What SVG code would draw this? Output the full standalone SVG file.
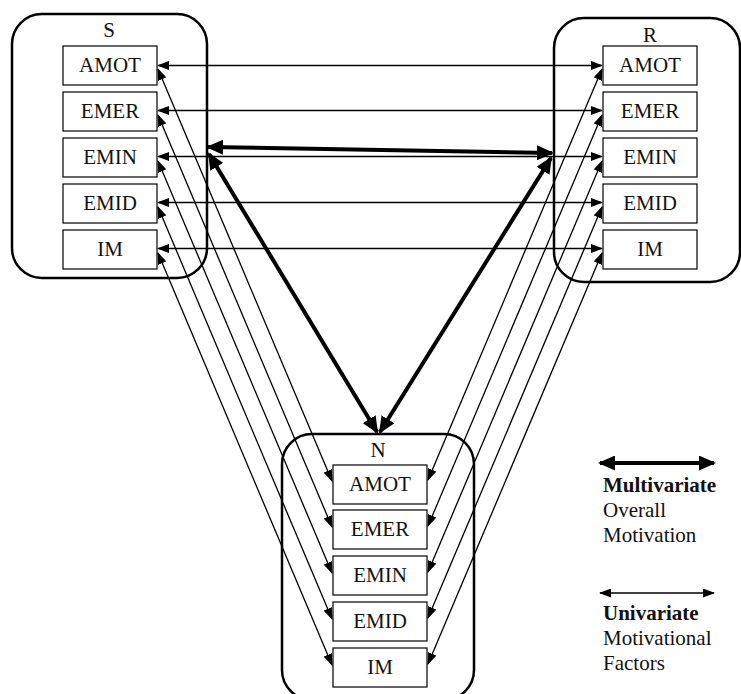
<svg xmlns="http://www.w3.org/2000/svg" width="741" height="694" viewBox="0 0 741 694">
  <style>
    .group { fill: none; stroke: #000; stroke-width: 2.5; }
    .box { fill: #fff; stroke: #000; stroke-width: 1.2; }
    text { font-family: "Liberation Serif", "Times New Roman", Times, serif; font-size: 21px; fill: #111; }
    .lbl { text-anchor: middle; }
    .bold { font-weight: bold; }
    .thin { stroke: #000; stroke-width: 1.3; fill: none; marker-start: url(#headThin); marker-end: url(#headThin); }
    .thick { stroke: #000; stroke-width: 4; fill: none; marker-start: url(#headThick); marker-end: url(#headThick); }
  </style>
  <defs>
    <marker id="headThin" viewBox="0 0 12 9" refX="11" refY="4.5" markerWidth="12" markerHeight="9" markerUnits="userSpaceOnUse" orient="auto-start-reverse">
      <path d="M0,0 L12,4.5 L0,9 z" fill="#000"/>
    </marker>
    <marker id="headThick" viewBox="0 0 17 15" refX="15" refY="7.5" markerWidth="17" markerHeight="15" markerUnits="userSpaceOnUse" orient="auto-start-reverse">
      <path d="M0,0 L17,7.5 L0,15 z" fill="#000"/>
    </marker>
  </defs>

  <!-- S group -->
  <g id="S">
    <rect class="group" x="12" y="14" width="195" height="264" rx="30"/>
    <text class="lbl" x="109" y="37">S</text>
    <g id="S-AMOT"><rect class="box" x="63" y="46" width="94" height="39"/><text class="lbl" x="110" y="72">AMOT</text></g>
    <g id="S-EMER"><rect class="box" x="63" y="92" width="94" height="39"/><text class="lbl" x="110" y="118">EMER</text></g>
    <g id="S-EMIN"><rect class="box" x="63" y="138" width="94" height="39"/><text class="lbl" x="110" y="164">EMIN</text></g>
    <g id="S-EMID"><rect class="box" x="63" y="184" width="94" height="39"/><text class="lbl" x="110" y="210">EMID</text></g>
    <g id="S-IM"><rect class="box" x="63" y="230" width="94" height="39"/><text class="lbl" x="110" y="256">IM</text></g>
  </g>

  <!-- R group -->
  <g id="R">
    <rect class="group" x="554" y="18" width="186" height="264" rx="30"/>
    <text class="lbl" x="650" y="42">R</text>
    <g id="R-AMOT"><rect class="box" x="603" y="46" width="94" height="39"/><text class="lbl" x="650" y="72">AMOT</text></g>
    <g id="R-EMER"><rect class="box" x="603" y="92" width="94" height="39"/><text class="lbl" x="650" y="118">EMER</text></g>
    <g id="R-EMIN"><rect class="box" x="603" y="138" width="94" height="39"/><text class="lbl" x="650" y="164">EMIN</text></g>
    <g id="R-EMID"><rect class="box" x="603" y="184" width="94" height="39"/><text class="lbl" x="650" y="210">EMID</text></g>
    <g id="R-IM"><rect class="box" x="603" y="230" width="94" height="39"/><text class="lbl" x="650" y="256">IM</text></g>
  </g>

  <!-- N group -->
  <g id="N">
    <rect class="group" x="282" y="434" width="192" height="266" rx="30"/>
    <text class="lbl" x="378" y="457">N</text>
    <g id="N-AMOT"><rect class="box" x="333" y="465" width="94" height="39"/><text class="lbl" x="380" y="491">AMOT</text></g>
    <g id="N-EMER"><rect class="box" x="333" y="510" width="94" height="39"/><text class="lbl" x="380" y="536">EMER</text></g>
    <g id="N-EMIN"><rect class="box" x="333" y="556" width="94" height="39"/><text class="lbl" x="380" y="582">EMIN</text></g>
    <g id="N-EMID"><rect class="box" x="333" y="602" width="94" height="39"/><text class="lbl" x="380" y="628">EMID</text></g>
    <g id="N-IM"><rect class="box" x="333" y="648" width="94" height="39"/><text class="lbl" x="380" y="674">IM</text></g>
  </g>

  <!-- connectors -->
  <g id="connectors">
    <!-- S <-> R, one per factor -->
    <line class="thin" x1="158" y1="65.5" x2="602" y2="65.5"/>
    <line class="thin" x1="158" y1="110.5" x2="602" y2="110.5"/>
    <line class="thin" x1="158" y1="156.5" x2="602" y2="156.5"/>
    <line class="thin" x1="158" y1="202.5" x2="602" y2="202.5"/>
    <line class="thin" x1="158" y1="248.5" x2="602" y2="248.5"/>
    <!-- S <-> N, one per factor -->
    <line class="thin" x1="158" y1="69" x2="332" y2="481"/>
    <line class="thin" x1="158" y1="115" x2="332" y2="527"/>
    <line class="thin" x1="158" y1="161" x2="332" y2="573"/>
    <line class="thin" x1="158" y1="207" x2="332" y2="619"/>
    <line class="thin" x1="158" y1="253" x2="332" y2="665"/>
    <!-- R <-> N, one per factor -->
    <line class="thin" x1="602" y1="69" x2="428" y2="480"/>
    <line class="thin" x1="602" y1="115" x2="428" y2="526"/>
    <line class="thin" x1="602" y1="161" x2="428" y2="572"/>
    <line class="thin" x1="602" y1="207" x2="428" y2="618"/>
    <line class="thin" x1="602" y1="253" x2="428" y2="664"/>
    <!-- overall motivation links -->
    <line class="thick" x1="208" y1="147" x2="552" y2="153"/>
    <line class="thick" x1="209" y1="154" x2="377" y2="432"/>
    <line class="thick" x1="551" y1="158" x2="380" y2="432"/>
  </g>

  <!-- legend -->
  <g id="legend">
    <line class="thick" x1="600" y1="463" x2="714" y2="463"/>
    <text class="bold" x="603" y="492">Multivariate</text>
    <text x="603" y="517">Overall</text>
    <text x="603" y="542">Motivation</text>
    <line class="thin" x1="600" y1="593" x2="714" y2="593"/>
    <text class="bold" x="603" y="620">Univariate</text>
    <text x="603" y="645">Motivational</text>
    <text x="603" y="670">Factors</text>
  </g>
</svg>
